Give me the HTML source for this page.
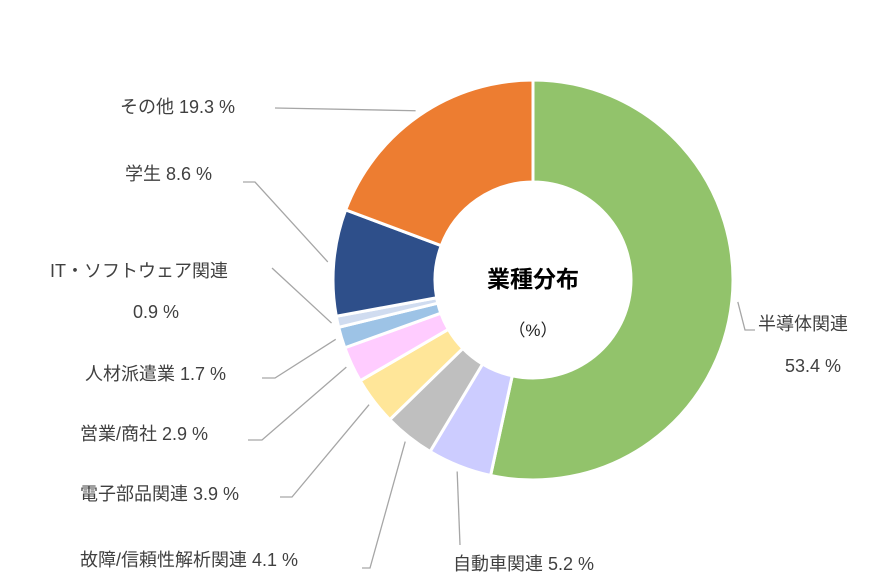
<!DOCTYPE html>
<html><head><meta charset="utf-8">
<style>
html,body{margin:0;padding:0;background:#fff;}
svg{display:block;font-family:"Liberation Sans","Noto Sans CJK JP",sans-serif;}
</style></head>
<body>
<svg id="chart" width="884" height="582" viewBox="0 0 884 582"></svg>
<script>
const categories = ["半導体関連","自動車関連","故障/信頼性解析関連","電子部品関連","営業/商社","人材派遣業","IT・ソフトウェア関連","学生","その他"];
const values = [53.4,5.2,4.1,3.9,2.9,1.7,0.9,8.6,19.3];
const valueLabels = ["53.4 %","5.2 %","4.1 %","3.9 %","2.9 %","1.7 %","0.9 %","8.6 %","19.3 %"];
const colors = ["#92C36B","#CCCCFF","#BFBFBF","#FFE699","#FFCCFF","#9DC3E6","#D0DCF0","#2E4F8A","#ED7D31"];
// label layout: [textX, textY, anchor, elbowPoints...]
const layout = [
  {lines:[["半導体関連",758,330,"start"],["53.4 %",785,372,"start"]], path:[[745,330],[755,330]]},
  {lines:[["自動車関連 5.2 %",453,570,"start"]], path:[[460,545]]},
  {lines:[["故障/信頼性解析関連 4.1 %",80,566,"start"]], path:[[370,568],[362,568]]},
  {lines:[["電子部品関連 3.9 %",80,500,"start"]], path:[[292,497],[280,497]]},
  {lines:[["営業/商社 2.9 %",80,440,"start"]], path:[[262,440],[248,440]]},
  {lines:[["人材派遣業 1.7 %",85,380,"start"]], path:[[275,378],[262,378]]},
  {lines:[["IT・ソフトウェア関連",50,277,"start"],["0.9 %",133,318,"start"]], path:[[272,268]]},
  {lines:[["学生 8.6 %",125,180,"start"]], path:[[255,182],[243,182]]},
  {lines:[["その他 19.3 %",120,113,"start"]], path:[[275,108]]}
];
const NS="http://www.w3.org/2000/svg";
const svg=document.getElementById("chart");
const cx=533, cy=280, R=200, r=98;
function pt(a,rad){return [cx+rad*Math.sin(a), cy-rad*Math.cos(a)];}
const total=values.reduce((s,v)=>s+v,0);
let cum=0;
values.forEach((v,i)=>{
  const a0=cum/total*2*Math.PI; cum+=v; const a1=cum/total*2*Math.PI;
  const big=(a1-a0)>Math.PI?1:0;
  const p0=pt(a0,R),p1=pt(a1,R),q1=pt(a1,r),q0=pt(a0,r);
  const path=document.createElementNS(NS,"path");
  path.setAttribute("d",`M${p0[0]},${p0[1]} A${R},${R} 0 ${big} 1 ${p1[0]},${p1[1]} L${q1[0]},${q1[1]} A${r},${r} 0 ${big} 0 ${q0[0]},${q0[1]} Z`);
  path.setAttribute("fill",colors[i]);
  path.setAttribute("stroke","#fff");
  path.setAttribute("stroke-width","3");
  
  
  svg.appendChild(path);
  // leader
  const am=(a0+a1)/2; const s=pt(am,R+6);
  const L=layout[i];
  const pts=[s].concat(L.path);
  const pl=document.createElementNS(NS,"polyline");
  pl.setAttribute("points",pts.map(p=>p.join(",")).join(" "));
  pl.setAttribute("fill","none");
  pl.setAttribute("stroke","#A6A6A6");
  pl.setAttribute("stroke-width","1.3");
  
  
  svg.appendChild(pl);
  L.lines.forEach((ln,j)=>{
    const t=document.createElementNS(NS,"text");
    t.setAttribute("x",ln[1]);t.setAttribute("y",ln[2]);
    t.setAttribute("text-anchor",ln[3]);
    t.setAttribute("font-size","18");
    t.setAttribute("fill","#404040");
    t.textContent=ln[0];
    
    
    svg.appendChild(t);
  });
});
const title=document.createElementNS(NS,"text");
title.setAttribute("x",cx);title.setAttribute("y",287);
title.setAttribute("text-anchor","middle");title.setAttribute("font-size","23");
title.setAttribute("font-weight","bold");title.setAttribute("fill","#000");
title.textContent="業種分布";


svg.appendChild(title);
const unit=document.createElementNS(NS,"text");
unit.setAttribute("x",cx);unit.setAttribute("y",336);
unit.setAttribute("text-anchor","middle");unit.setAttribute("font-size","17");
unit.setAttribute("fill","#222");
unit.textContent="（%）";


svg.appendChild(unit);
</script>
</body></html>
